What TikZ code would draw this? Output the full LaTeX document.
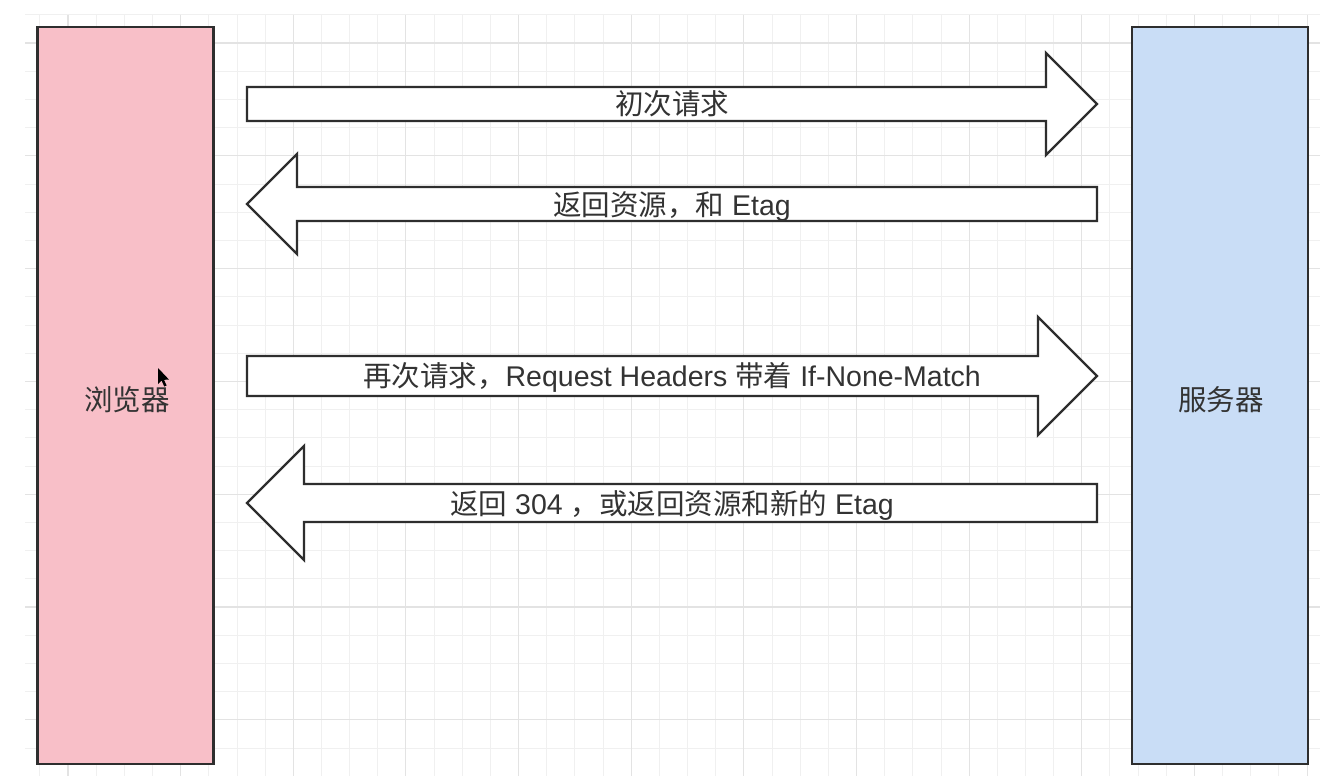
\documentclass[tikz,border=0pt]{standalone}
\usepackage{fontspec}
\setmainfont{Liberation Sans}
\newfontfamily\cjk{Noto Sans CJK SC}
\definecolor{pinkfill}{HTML}{F8BFC8}
\definecolor{bluefill}{HTML}{C9DDF6}
\definecolor{edgegray}{HTML}{2E2E2E}
\definecolor{textgray}{HTML}{333333}
\definecolor{minorgrid}{HTML}{F0F0F0}
\definecolor{majorgrid}{HTML}{E3E3E3}
\newcommand\RBlock[5]{%
  \draw[blockarrow] (#1,{#3-#4}) -- ({#2-#5},{#3-#4}) -- ({#2-#5},{#3-#5}) -- (#2,#3)
    -- ({#2-#5},{#3+#5}) -- ({#2-#5},{#3+#4}) -- (#1,{#3+#4}) -- cycle;}
\newcommand\LBlock[5]{%
  \draw[blockarrow] (#2,{#3-#4}) -- ({#1+#5},{#3-#4}) -- ({#1+#5},{#3-#5}) -- (#1,#3)
    -- ({#1+#5},{#3+#5}) -- ({#1+#5},{#3+#4}) -- (#2,{#3+#4}) -- cycle;}
\begin{document}
\begin{tikzpicture}[x=1pt,y=-1pt,
  sidebox/.style={draw=edgegray, line width=2.4pt, inner sep=0pt, minimum width=176pt, minimum height=737pt},
  blockarrow/.style={draw=edgegray, line width=2.4pt, fill=white, line join=miter},
  lbl/.style={text=textgray, inner sep=0pt, text height=24pt, text depth=3.4pt, font=\fontsize{28.5}{34}\selectfont},
  gridminor/.style={draw=minorgrid, line width=0.9pt},
  gridmajor/.style={draw=majorgrid, line width=1.1pt}]
\useasboundingbox (0,0) rectangle (1330,776);
\fill[white] (0,0) rectangle (1330,776);
% grid
\foreach \i in {0,...,45} \draw[gridminor] ({39.84+\i*28.16},15) -- ({39.84+\i*28.16},776);
\foreach \j in {0,...,27} \draw[gridminor] (25,{14.8+\j*28.2}) -- (1320,{14.8+\j*28.2});
\foreach \i in {0,...,11} \draw[gridmajor] ({68+\i*112.64},15) -- ({68+\i*112.64},776);
\foreach \j in {0,...,6} \draw[gridmajor] (25,{43+\j*112.8}) -- (1320,{43+\j*112.8});
% side boxes
\node[sidebox, fill=pinkfill] (browser) at (125.5,395.5) {};
\node[sidebox, fill=bluefill] (server) at (1220,395.5) {};
\node[lbl] (browserlbl) at (127,400) {\cjk 浏览器};
\node[lbl] (serverlbl) at (1221,400) {\cjk 服务器};
% block arrows
\RBlock{247}{1097}{104}{17}{51}
\LBlock{247}{1097}{204}{17}{50}
\RBlock{247}{1097}{376}{20}{59}
\LBlock{247}{1097}{503}{19}{57}
\node[lbl] (first) at (672,104) {\cjk 初次请求};
\node[lbl] (reply1) at (672,205) {{\cjk 返回资源，和} Etag};
\node[lbl] (second) at (672,376) {{\cjk 再次请求，}Request Headers {\cjk 带着} If-None-Match};
\node[lbl] (reply2) at (672,504) {{\cjk 返回} 304 {\cjk ，或返回资源和新的} Etag};
% mouse pointer
\fill[black] (158,368) -- (158,384) -- (161.6,380.6) -- (164.3,386.5) -- (166.6,385.5) -- (164,379.8) -- (169,379.6) -- cycle;
\end{tikzpicture}
\end{document}
